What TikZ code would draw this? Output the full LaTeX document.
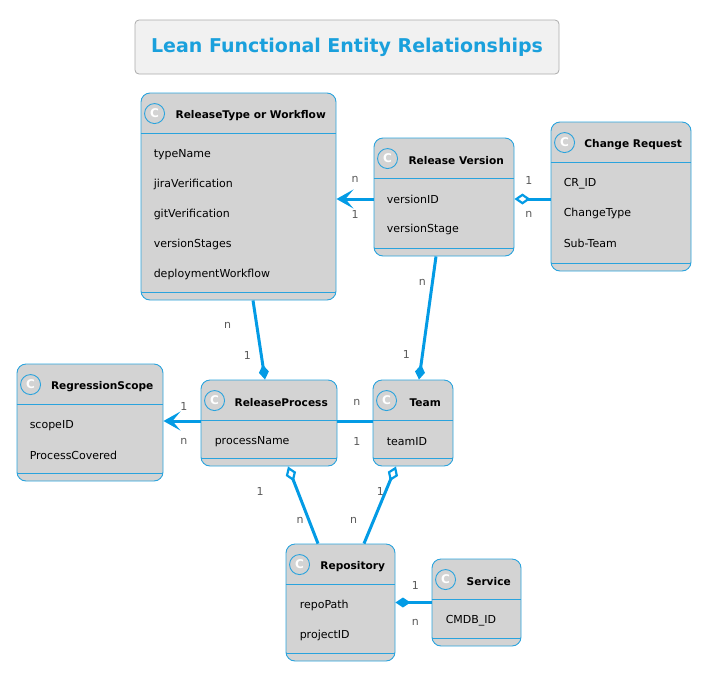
\documentclass[tikz,border=0pt]{standalone}
\usepackage{fontspec}
\setmainfont{DejaVu Sans}
\usetikzlibrary{arrows.meta}
\usetikzlibrary{calc}

\definecolor{umlblue}{HTML}{039BE5}
\definecolor{umlborder}{HTML}{2AA3DD}
\definecolor{umlfill}{HTML}{D3D3D3}
\definecolor{titlefill}{HTML}{F1F1F1}
\definecolor{titleline}{HTML}{ABABAB}
\definecolor{titletext}{HTML}{1AA0DC}
\definecolor{cardgray}{HTML}{5A5A5A}

\tikzset{
  titlebox/.style={draw=titleline, fill=titlefill, rounded corners=4pt, line width=0.8pt,
    text=titletext, font=\fontsize{19}{21}\selectfont\bfseries},
  classbox/.style={draw=umlborder, fill=umlfill, rounded corners=9pt, line width=0.9pt},
  divider/.style={draw=umlborder, line width=0.9pt},
  badge/.style={circle, draw=umlborder, fill=umlfill, line width=0.9pt, minimum size=20pt,
    inner sep=0pt, text=white, font=\fontsize{12}{12}\selectfont\bfseries},
  classname/.style={font=\fontsize{10.6}{12}\selectfont\bfseries, inner sep=0pt},
  attr/.style={anchor=west, font=\fontsize{11}{13}\selectfont, inner sep=0pt},
  link/.style={draw=umlblue, line width=3pt},
  card/.style={text=cardgray, font=\fontsize{11}{12}\selectfont, inner sep=0pt},
  navigate/.style={-{Stealth[length=17pt, width=19pt, inset=8pt]}},
  composite/.style={-{Diamond[length=15pt, width=10pt]}},
  aggregate/.style={-{Diamond[open, fill=white, length=16pt, width=11pt, line width=2.2pt]}}
}

\begin{document}
\begin{tikzpicture}[x=1pt, y=-1pt]
\useasboundingbox (0,0) rectangle (702,673);

% title
\node[titlebox, minimum width=424pt, minimum height=54pt] (title) at (347,47)
  {Lean Functional Entity Relationships};

% classes
\node[classbox, minimum width=195pt, minimum height=207pt] (rt) at (238.5,196.5) {};
\node[classbox, minimum width=140pt, minimum height=118pt] (rv) at (444,197) {};
\node[classbox, minimum width=140pt, minimum height=149pt] (cr) at (621,196.5) {};
\node[classbox, minimum width=146pt, minimum height=117pt] (rs) at (90,422.5) {};
\node[classbox, minimum width=136pt, minimum height=86pt] (rp) at (269,423) {};
\node[classbox, minimum width=80pt, minimum height=86pt] (team) at (413,423) {};
\node[classbox, minimum width=109pt, minimum height=117pt] (repo) at (340.5,602.5) {};
\node[classbox, minimum width=89pt, minimum height=87pt] (svc) at (476.5,602.5) {};

% headers, dividers and fields
\foreach \cls/\title in {rt/ReleaseType or Workflow, rv/Release Version, cr/Change Request,
    rs/RegressionScope, rp/ReleaseProcess, team/Team, repo/Repository, svc/Service} {
  \node[badge] (\cls-c) at ([xshift=14pt, yshift=-21pt]\cls.north west) {C};
  \node[classname, yshift=-2pt] (\cls-name) at ($(\cls-c.east)!0.5!(\cls-c.east -| \cls.east)$) {\title};
  \draw[divider] ([yshift=-41pt]\cls.north west) -- ([yshift=-41pt]\cls.north east);
  \draw[divider] ([yshift=8pt]\cls.south west) -- ([yshift=8pt]\cls.south east);
}

\foreach \f [count=\i] in {typeName, jiraVerification, gitVerification, versionStages, deploymentWorkflow}
  \node[attr] (rt-\i) at ([xshift=13pt, yshift={-32pt-30pt*\i}]rt.north west) {\f};
\foreach \f [count=\i] in {versionID, versionStage}
  \node[attr] (rv-\i) at ([xshift=13pt, yshift={-32pt-30pt*\i}]rv.north west) {\f};
\foreach \f [count=\i] in {CR\_ID, ChangeType, Sub-Team}
  \node[attr] (cr-\i) at ([xshift=13pt, yshift={-32pt-30pt*\i}]cr.north west) {\f};
\foreach \f [count=\i] in {scopeID, ProcessCovered}
  \node[attr] (rs-\i) at ([xshift=13pt, yshift={-32pt-30pt*\i}]rs.north west) {\f};
\node[attr] (rp-1) at ([xshift=14pt, yshift=-62pt]rp.north west) {processName};
\node[attr] (team-1) at ([xshift=14pt, yshift=-62pt]team.north west) {teamID};
\foreach \f [count=\i] in {repoPath, projectID}
  \node[attr] (repo-\i) at ([xshift=14pt, yshift={-32pt-30pt*\i}]repo.north west) {\f};
\node[attr] (svc-1) at ([xshift=14pt, yshift=-62pt]svc.north west) {CMDB\_ID};

% relations
\draw[link, navigate] ([yshift=-2pt]rv.west) -- ([yshift=-2pt]rv.west -| rt.east)
  node[card, pos=0.5, yshift=20pt] {n} node[card, pos=0.5, yshift=-15pt] {1};
\draw[link, aggregate] ([yshift=-2pt]rv.east -| cr.west) -- ([yshift=-2pt]rv.east)
  node[card, pos=0.6, yshift=19pt] {1} node[card, pos=0.6, yshift=-15pt] {n};
\draw[link, composite] ([xshift=14.5pt]rt.south) -- ([xshift=-4pt]rp.north)
  node[card, pos=0.31, xshift=-29pt] {n} node[card, pos=0.69, xshift=-14pt] {1};
\draw[link, composite] ([xshift=-8pt]rv.south) -- ([xshift=6pt]team.north)
  node[card, pos=0.21, xshift=-10pt] {n} node[card, pos=0.8, xshift=-16pt] {1};
\draw[link, navigate] ([yshift=2pt]rp.west) -- ([yshift=2pt]rp.west -| rs.east)
  node[card, pos=0.45, yshift=15pt] {1} node[card, pos=0.45, yshift=-20pt] {n};
\draw[link] ([yshift=2pt]rp.east) -- ([yshift=2pt]rp.east -| team.west)
  node[card, pos=0.55, yshift=19pt] {n} node[card, pos=0.55, yshift=-20pt] {1};
\draw[link, aggregate] ([xshift=-22.5pt]repo.north) -- ([xshift=19pt]rp.south)
  node[card, pos=0.68, xshift=-37.5pt] {1} node[card, pos=0.3, xshift=-9pt] {n};
\draw[link, aggregate] ([xshift=23.5pt]repo.north) -- ([xshift=-17pt]team.south)
  node[card, pos=0.68, xshift=-5.5pt] {1} node[card, pos=0.3, xshift=-20pt] {n};
\draw[link, composite] (svc.west) -- (svc.west -| repo.east)
  node[card, pos=0.45, yshift=17pt] {1} node[card, pos=0.45, yshift=-20pt] {n};

\end{tikzpicture}
\end{document}
